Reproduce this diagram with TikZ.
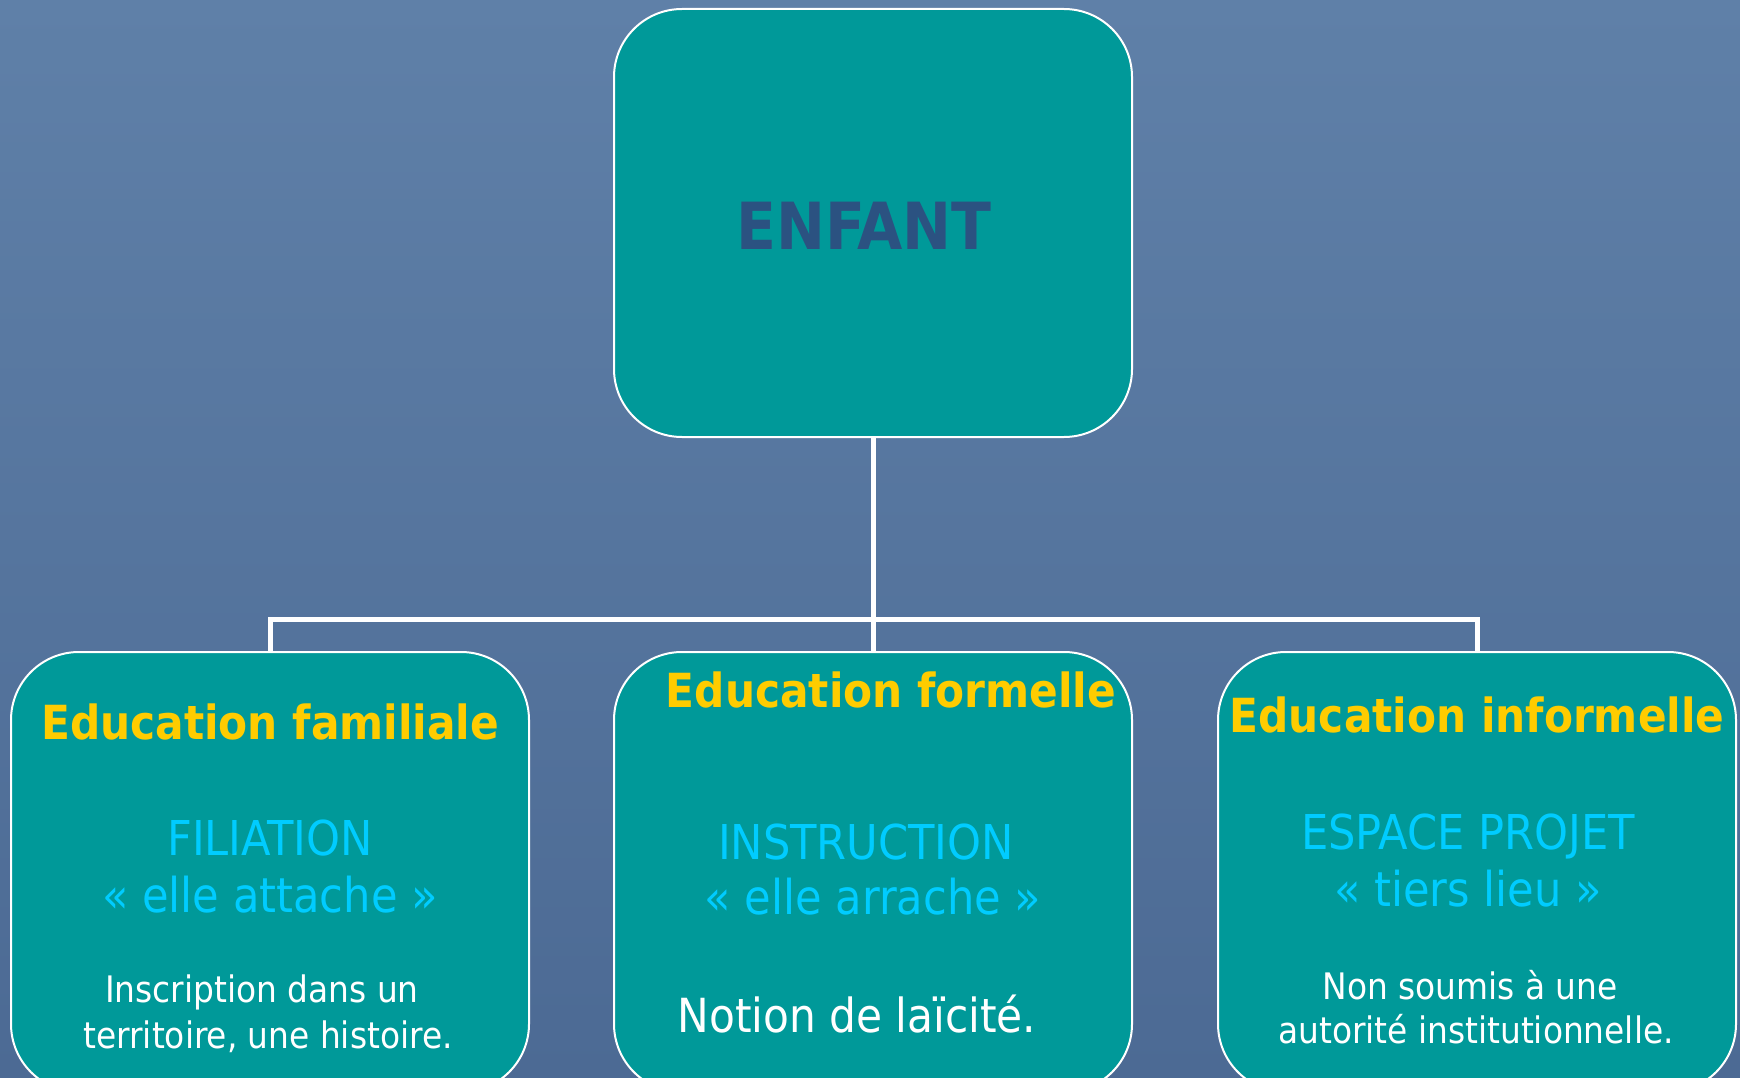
\documentclass[tikz,border=0pt]{standalone}
\usepackage{fontspec}
\setmainfont{DejaVu Sans Condensed}
\usetikzlibrary{positioning}
\definecolor{fondhaut}{HTML}{5F80A8}
\definecolor{fondbas}{HTML}{4C6A94}
\definecolor{sarcelle}{HTML}{009999}
\definecolor{marine}{HTML}{2B5281}
\definecolor{jaune}{HTML}{FFCC00}
\definecolor{ciel}{HTML}{00CCFF}

\begin{document}
\begin{tikzpicture}[x=1pt,y=-1pt,
	boite/.style={draw=white, line width=2pt, fill=sarcelle, rounded corners=68pt,
		minimum width=518pt, anchor=north},
	titre/.style={anchor=base, text=jaune, font=\bfseries\fontsize{47}{56}\selectfont},
	role/.style={anchor=base, text=ciel, font=\fontsize{48}{58}\selectfont},
	note/.style={anchor=base, text=white, font=\fontsize{36.5}{44}\selectfont},
	lien/.style={draw=white, line width=5pt}]
				% fond
				\useasboundingbox (0,0) rectangle (1740,1078);
				\clip (0,0) rectangle (1740,1078);
				\shade[top color=fondhaut, bottom color=fondbas] (0,0) rectangle (1740,1078);
				% boites
				\node[boite, minimum height=428pt] (enfant) at (873,8) {};
				\node[boite, minimum height=440pt] (familiale) at (270,651) {};
				\node[boite, minimum height=440pt] (formelle) at (873,651) {};
				\node[boite, minimum height=440pt] (informelle) at (1477,651) {};
				% liens
				\coordinate (jonction) at (873,619);
				\draw[lien] (enfant.south) -- (formelle.north);
				\draw[lien] (familiale.north) |- (jonction) -| (informelle.north);
				% textes
				\node[anchor=base, text=marine, font=\bfseries\fontsize{65}{78}\selectfont] (nom) at (864,250) {ENFANT};

				\node[titre] (t1) at (270,739) {Education familiale};
				\node[role] (r1a) at (270,855) {FILIATION};
				\node[role] (r1b) at (270,912) {« elle attache »};
				\node[note] (n1a) at (262,1002) {Inscription dans un};
				\node[note] (n1b) at (268,1048) {territoire, une histoire.};

				\node[titre] (t2) at (891,707) {Education formelle};
				\node[role] (r2a) at (866,859) {INSTRUCTION};
				\node[role] (r2b) at (873,914) {« elle arrache »};
				\node[note, font=\fontsize{47}{56}\selectfont] (n2) at (857,1032) {Notion de laïcité.};

				\node[titre] (t3) at (1477,732) {Education informelle};
				\node[role] (r3a) at (1468,849) {ESPACE PROJET};
				\node[role] (r3b) at (1468,906) {« tiers lieu »};
				\node[note] (n3a) at (1470,999) {Non soumis à une};
				\node[note] (n3b) at (1476,1043) {autorité institutionnelle.};
			\end{tikzpicture}
\end{document}
